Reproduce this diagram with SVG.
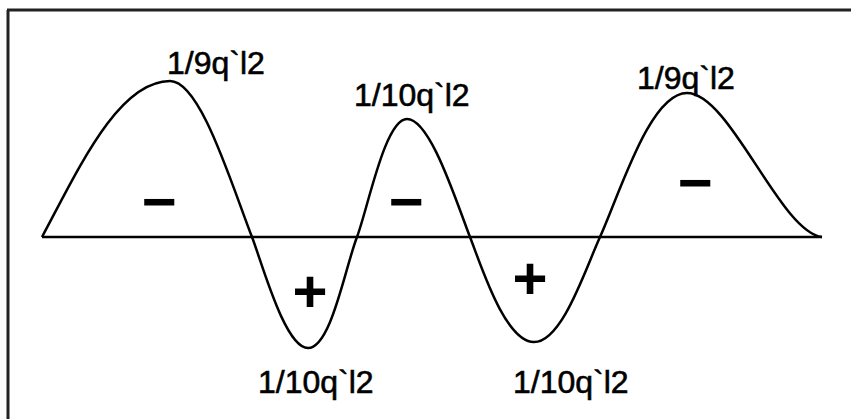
<svg xmlns="http://www.w3.org/2000/svg" width="851" height="419" viewBox="0 0 851 419">
<style>
.lbl{font-family:"Liberation Sans",Arial,sans-serif;font-size:32px;fill:#000;stroke:#000;stroke-width:0.6}
.sign{font-family:"Liberation Sans",Arial,sans-serif;font-size:60px;font-weight:bold;fill:#000;text-anchor:middle}
.ln{fill:none;stroke:#000;stroke-width:2.5}
</style>
<rect width="851" height="419" fill="#fff"/>
<g id="frame">
<path d="M7,10 H851 M8,10 V419" fill="none" stroke="#222" stroke-width="3"/>
</g>
<g id="connectors">
<line id="axis" class="ln" x1="42" y1="237" x2="822" y2="237"/>
<path id="moment-curve" class="ln" d="M42,237 C78,170 118,81 170,81 C200,81 230,180 252,237 C262,263 285,348 308,348 C331,348 345,268 357,237 C368,208 385,119 407,119 C430,119 455,198 470,237 C481,265 505,342 534,342 C562,342 585,270 600,237 C620,193 650,93 687,93 C730,93 780,232 822,237"/>
</g>
<g id="label-peak1"><text class="lbl" x="167" y="74">1/9q`l2</text></g>
<g id="label-peak2"><text class="lbl" x="354" y="106">1/10q`l2</text></g>
<g id="label-peak3"><text class="lbl" x="637" y="89">1/9q`l2</text></g>
<g id="label-trough1"><text class="lbl" x="258" y="393">1/10q`l2</text></g>
<g id="label-trough2"><text class="lbl" x="513" y="393">1/10q`l2</text></g>
<g id="sign-minus1"><text class="sign" x="159" y="222">−</text></g>
<g id="sign-minus2"><text class="sign" x="406" y="222">−</text></g>
<g id="sign-minus3"><text class="sign" x="695" y="203">−</text></g>
<g id="sign-plus1"><text class="sign" x="310" y="312">+</text></g>
<g id="sign-plus2"><text class="sign" x="530" y="299">+</text></g>
</svg>
